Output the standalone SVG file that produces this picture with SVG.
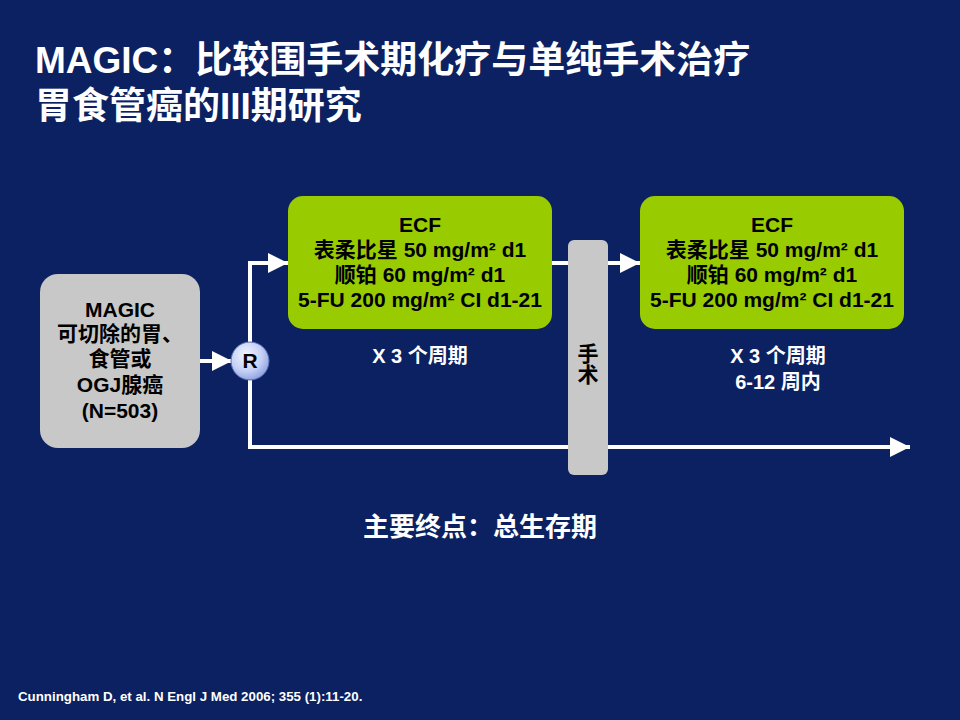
<svg xmlns="http://www.w3.org/2000/svg" width="960" height="720" viewBox="0 0 960 720">
<defs>
<style>
text{font-family:"Liberation Sans","Noto Sans CJK SC",sans-serif;font-weight:bold;}
.title{fill:#ffffff;font-size:37px;}
.w{fill:#ffffff;}
.k{fill:#000000;text-anchor:middle;font-size:21px;}
.gbox{fill:#99cc00;}
.conn{stroke:#ffffff;stroke-width:4;fill:none;}
</style>
<marker id="ah" markerWidth="5" markerHeight="5" refX="5" refY="2.5" orient="auto" markerUnits="strokeWidth">
<path d="M0,0 L5,2.5 L0,5 Z" fill="#ffffff"/>
</marker>
<radialGradient id="rg" cx="0.4" cy="0.35" r="0.7">
<stop offset="0" stop-color="#f2f5ff"/>
<stop offset="0.6" stop-color="#c4cff5"/>
<stop offset="1" stop-color="#8a9fe0"/>
</radialGradient>
</defs>
<rect x="0" y="0" width="960" height="720" fill="#0b2161"/>
<g id="title">
<text class="title" x="35" y="73">MAGIC：比较围手术期化疗与单纯手术治疗</text>
<text class="title" x="35" y="119">胃食管癌的III期研究</text>
</g>
<g id="connectors">
<line class="conn" x1="200" y1="361" x2="232" y2="361" marker-end="url(#ah)"/>
<polyline class="conn" points="250,342 250,263 288,263" marker-end="url(#ah)"/>
<polyline class="conn" points="250,380 250,447 910,447" marker-end="url(#ah)"/>
<line class="conn" x1="552" y1="263" x2="640" y2="263" marker-end="url(#ah)"/>
</g>
<g id="population">
<rect x="40" y="274" width="160" height="174" rx="18" fill="#c8c8c8"/>
<text class="k" x="120" y="317">MAGIC</text>
<text class="k" x="120" y="341">可切除的胃、</text>
<text class="k" x="120" y="366">食管或</text>
<text class="k" x="120" y="392">OGJ腺癌</text>
<text class="k" x="120" y="418">(N=503)</text>
</g>
<g id="randomize">
<circle cx="250" cy="361" r="19" fill="url(#rg)" stroke="#5a6fb8" stroke-width="1"/>
<text class="k" x="250" y="368" font-size="19">R</text>
</g>
<g id="chemo-pre">
<rect class="gbox" x="288" y="196" width="264" height="133" rx="15"/>
<text class="k" x="420" y="232">ECF</text>
<text class="k" x="420" y="257">表柔比星 50 mg/m² d1</text>
<text class="k" x="420" y="282">顺铂 60 mg/m² d1</text>
<text class="k" x="420" y="307">5-FU 200 mg/m² CI d1-21</text>
<text class="w" x="420" y="363" text-anchor="middle" font-size="20">X 3 个周期</text>
</g>
<g id="surgery">
<rect x="568" y="240" width="40" height="235" rx="6" fill="#c8c8c8"/>
<text class="k" x="588" y="361">手</text>
<text class="k" x="588" y="382">术</text>
</g>
<g id="chemo-post">
<rect class="gbox" x="640" y="196" width="264" height="133" rx="15"/>
<text class="k" x="772" y="232">ECF</text>
<text class="k" x="772" y="257">表柔比星 50 mg/m² d1</text>
<text class="k" x="772" y="282">顺铂 60 mg/m² d1</text>
<text class="k" x="772" y="307">5-FU 200 mg/m² CI d1-21</text>
<text class="w" x="778" y="363" text-anchor="middle" font-size="20">X 3 个周期</text>
<text class="w" x="778" y="389" text-anchor="middle" font-size="20">6-12 周内</text>
</g>
<g id="endpoint">
<text class="w" x="480" y="536" text-anchor="middle" font-size="26">主要终点：总生存期</text>
</g>
<g id="citation">
<text class="w" x="18" y="701" font-size="13.3">Cunningham D, et al. N Engl J Med 2006; 355 (1):11-20.</text>
</g>
</svg>
